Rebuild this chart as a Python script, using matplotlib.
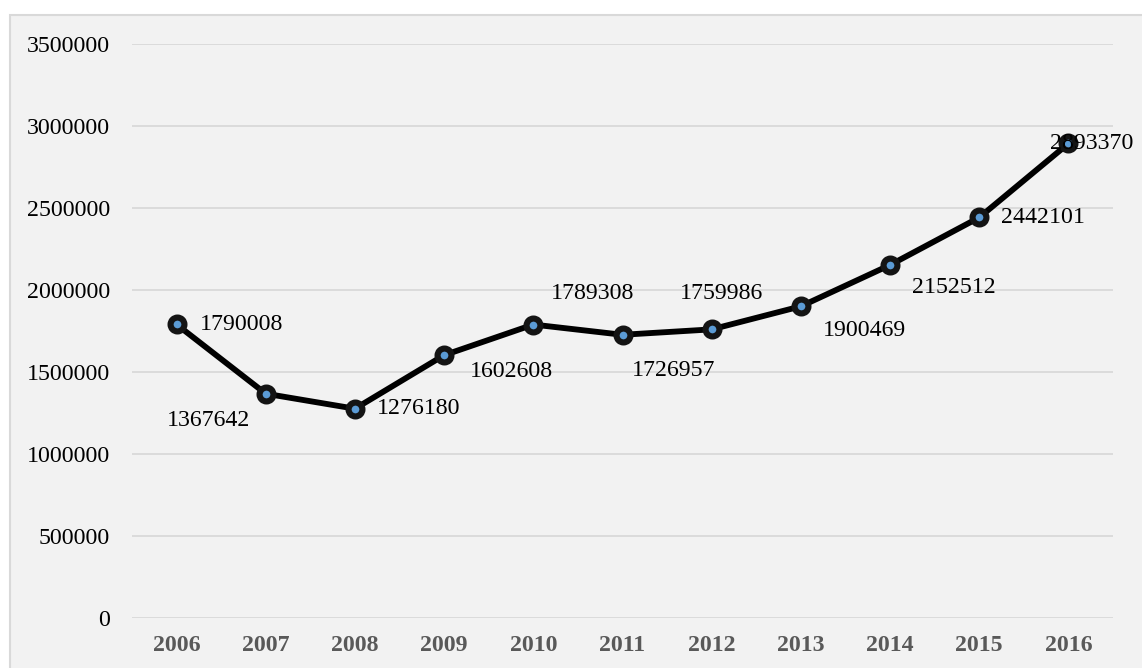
import matplotlib
matplotlib.use("Agg")
import matplotlib.pyplot as plt
from matplotlib.patches import Rectangle

years = ["2006", "2007", "2008", "2009", "2010", "2011",
         "2012", "2013", "2014", "2015", "2016"]
values = [1790008, 1367642, 1276180, 1602608, 1789308, 1726957,
          1759986, 1900469, 2152512, 2442101, 2893370]
yticks = [0, 500000, 1000000, 1500000, 2000000, 2500000, 3000000, 3500000]

# label offsets (pixels) as placed in the original chart
label_offsets = [(65, 0), (-57, -27), (64, 0), (67, -16), (59, 31), (51, -36),
                 (10, 36), (64, -24), (64, -23), (64, 0), (23, 0)]

plt.rcParams["font.family"] = ["Liberation Serif", "DejaVu Serif"]

fig = plt.figure(figsize=(11.42, 6.68), dpi=100, facecolor="white")
W, H = 1142, 668

# chart area background with thin border
bg = Rectangle((10 / W, -0.05), 1.1, 1 - 15 / H + 0.05,
               transform=fig.transFigure, facecolor="#F2F2F2",
               edgecolor="#D9D9D9", linewidth=1.5, zorder=-1)
fig.patches.append(bg)

ax = fig.add_axes([132 / W, 1 - 618 / H, (1113 - 132) / W, (618 - 44) / H])
ax.patch.set_visible(False)

x = list(range(len(years)))
ax.plot(x, values, color="black", linewidth=4.2, zorder=3,
        marker="o", markersize=10, markeredgewidth=4.4,
        markerfacecolor="#5B9BD5", markeredgecolor="#141414")

for xi, v, off in zip(x, values, label_offsets):
    ax.annotate(str(v), (xi, v), xytext=off, textcoords="offset pixels",
                ha="center", va="center", fontsize=17.2, color="black", zorder=4)

ax.set_xlim(-0.5, len(years) - 0.5)
ax.set_ylim(0, 3500000)
ax.set_yticks(yticks)
ax.set_yticklabels([str(t) for t in yticks])
ax.set_xticks(x)
ax.set_xticklabels(years, fontweight="bold", color="#595959")

ax.tick_params(axis="both", length=0, labelsize=17.2)
ax.tick_params(axis="y", pad=16)
ax.tick_params(axis="x", pad=12)
ax.grid(axis="y", color="#D9D9D9", linewidth=1.3)
ax.set_axisbelow(True)
for s in ax.spines.values():
    s.set_visible(False)

fig.savefig("out.png", dpi=100, facecolor="white")
